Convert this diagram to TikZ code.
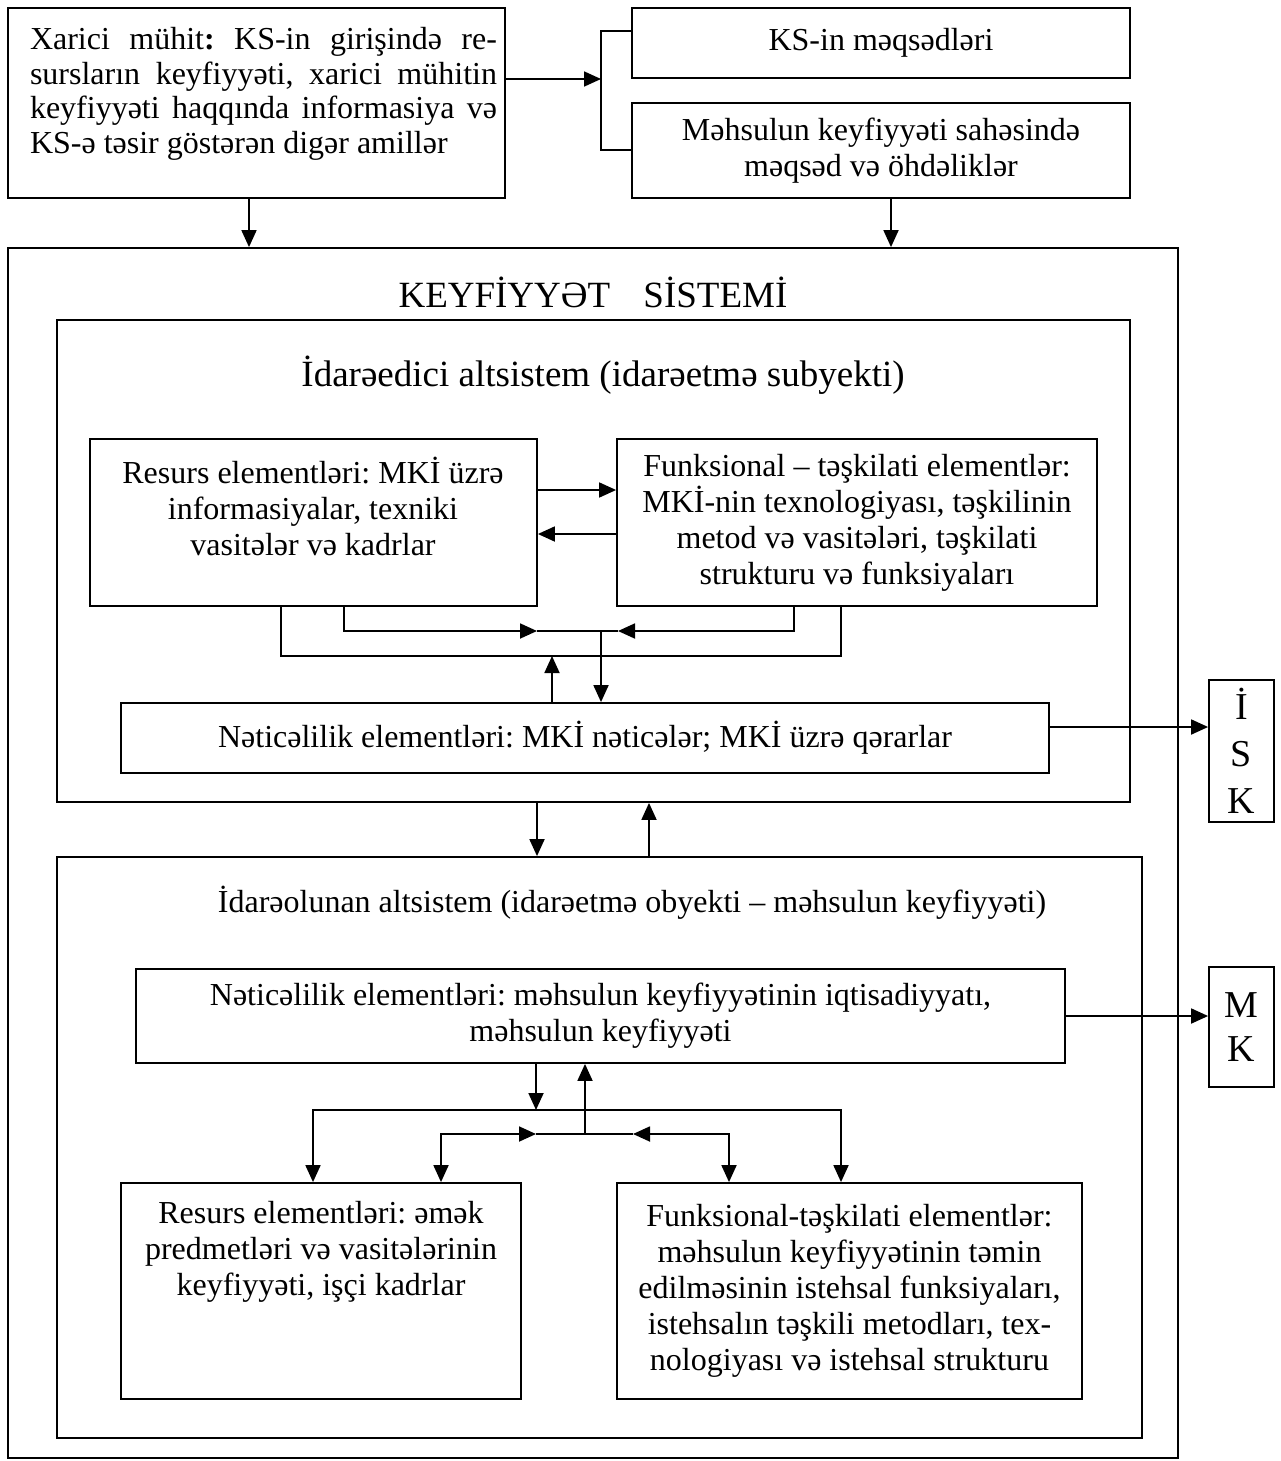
\documentclass[tikz,border=0pt]{standalone}
\usepackage{fontspec}
\setmainfont{Liberation Serif}
\usetikzlibrary{arrows.meta}
\frenchspacing
\begin{document}
\begin{tikzpicture}[x=0.5pt,y=-0.5pt,
  every node/.style={font=\fontsize{16}{18}\selectfont},
  bx/.style={draw, line width=0.9pt, inner sep=0pt, align=center},
  ln/.style={line width=0.9pt},
  arr/.style={ln, -{Triangle[length=8.5pt,width=7.5pt]}},
  both/.style={ln, {Triangle[length=8.5pt,width=7.5pt]}-{Triangle[length=8.5pt,width=7.5pt]}},
  txt/.style={inner sep=0pt, align=center},
  big/.style={font=\fontsize{19}{23.5}\selectfont},
]
\useasboundingbox (0,0) rectangle (1280,1461);

% ---------- environment and goals ----------
\node[bx, minimum width=248.5pt, minimum height=95pt] (env) at (256.5,103) {};
\node[txt, text width=233.5pt, align=justify, font=\fontsize{16}{17.25}\selectfont] (envtext) at (263.5,94)
  {Xarici mühit\textbf{:} KS-in girişində re-\linebreak sursların keyfiyyəti, xarici mühitin\linebreak keyfiyyəti haqqında informasiya və\linebreak KS-ə təsir göstərən digər amillər};

\node[bx, minimum width=249pt, minimum height=35pt] (goal) at (881,43) {KS-in məqsədləri};
\node[bx, minimum width=249pt, minimum height=47.5pt] (obl) at (881,150.5) {Məhsulun keyfiyyəti sahəsində\\məqsəd və öhdəliklər};

\coordinate (brk) at (601,79);
\draw[arr] (env.east |- brk) -- (brk);
\draw[ln] (goal.west |- 0,31) -| (brk) |- (obl.west |- 0,150);

% ---------- quality system frame ----------
\node[bx, minimum width=585pt, minimum height=605pt] (ks) at (593,853) {};
\node[txt, font=\fontsize{18.5}{22}\selectfont] (kstitle) at (593,292) {KEYFİYYƏT\hspace{0.9em}SİSTEMİ};

\draw[arr] (env.south -| 249,0) -- (ks.north -| 249,0);
\draw[arr] (obl.south -| 891,0) -- (ks.north -| 891,0);

% ---------- controlling subsystem ----------
\node[bx, minimum width=536.5pt, minimum height=241pt] (ctl) at (593.5,561) {};
\node[txt, font=\fontsize{18.5}{21}\selectfont] (ctltitle) at (603,375) {İdarəedici altsistem (idarəetmə subyekti)};

\node[bx, minimum width=223.5pt, minimum height=83.5pt] (res1) at (313.5,522.5) {};
\node[txt] (res1text) at (313,506) {Resurs elementləri: MKİ üzrə\\informasiyalar, texniki\\vasitələr və kadrlar};
\node[bx, minimum width=240pt, minimum height=83.5pt] (fun1) at (857,522.5) {Funksional – təşkilati elementlər:\\MKİ-nin texnologiyası, təşkilinin\\metod və vasitələri, təşkilati\\strukturu və funksiyaları};

\node[bx, minimum width=464pt, minimum height=35pt] (out1) at (585,738) {Nəticəlilik elementləri: MKİ nəticələr; MKİ üzrə qərarlar};
\node[bx, big, minimum width=32.5pt, minimum height=71pt] (isk) at (1241.5,751) {İ\\S\\K};

\draw[arr] (res1.east |- 0,490) -- (fun1.west |- 0,490);
\draw[arr] (fun1.west |- 0,534) -- (res1.east |- 0,534);

\coordinate (jL) at (537,631);
\coordinate (jR) at (618,631);
\coordinate (jD) at (601,631);
\coordinate (lp) at (552,656);
\draw[arr] (res1.south -| 344,0) |- (jL);
\draw[arr] (fun1.south -| 794,0) |- (jR);
\draw[ln] (jL) -- (jR);
\draw[arr] (jD) -- (out1.north -| jD);
\draw[ln] (res1.south -| 281,0) |- (lp) -| (fun1.south -| 841,0);
\draw[arr] (out1.north -| lp) -- (lp);

\draw[arr] (out1.east |- 0,727) -- (isk.west |- 0,727);

% ---------- controlled subsystem ----------
\node[bx, minimum width=542.5pt, minimum height=290.5pt] (obj) at (599.5,1147.5) {};
\node[txt] (objtitle) at (632,903) {İdarəolunan altsistem (idarəetmə obyekti – məhsulun keyfiyyəti)};

\draw[arr] (ctl.south -| 537,0) -- (obj.north -| 537,0);
\draw[arr] (obj.north -| 649,0) -- (ctl.south -| 649,0);

\node[bx, minimum width=464.5pt, minimum height=47pt] (out2) at (600.5,1016) {Nəticəlilik elementləri: məhsulun keyfiyyətinin iqtisadiyyatı,\\məhsulun keyfiyyəti};
\node[bx, big, font=\fontsize{19}{22}\selectfont, minimum width=32.5pt, minimum height=60pt] (mk) at (1241.5,1027) {M\\K};
\draw[arr] (out2.east |- 0,1016) -- (mk.west |- 0,1016);

\node[bx, minimum width=200pt, minimum height=108pt] (res2) at (321,1291) {};
\node[txt] (res2text) at (321,1252) {Resurs elementləri: əmək\\predmetləri və vasitələrinin\\keyfiyyəti, işçi kadrlar};
\node[bx, minimum width=232.5pt, minimum height=108pt] (fun2) at (849.5,1291) {Funksional-təşkilati elementlər:\\məhsulun keyfiyyətinin təmin\\edilməsinin istehsal funksiyaları,\\istehsalın təşkili metodları, tex-\\nologiyası və istehsal strukturu};

\coordinate (bar) at (536,1110);
\coordinate (kL) at (536,1134);
\coordinate (kR) at (633,1134);
\coordinate (kU) at (585,1134);
\draw[arr] (out2.south -| bar) -- (bar);
\draw[arr] (bar) -| (res2.north -| 313,0);
\draw[arr] (bar) -| (fun2.north -| 841,0);
\draw[both] (res2.north -| 441,0) |- (kL);
\draw[both] (fun2.north -| 729,0) |- (kR);
\draw[ln] (kL) -- (kR);
\draw[arr] (kU) -- (out2.south -| kU);
\end{tikzpicture}
\end{document}
